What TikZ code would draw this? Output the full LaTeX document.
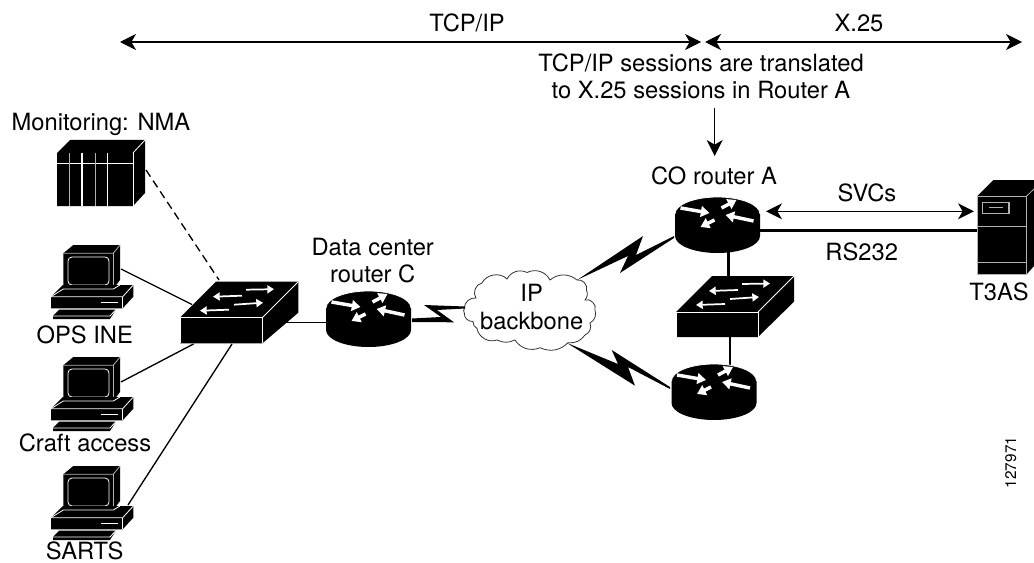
\documentclass[tikz,border=0pt]{standalone}
\usepackage{fontspec}
\setmainfont{TeX Gyre Heros}
\usetikzlibrary{arrows.meta}
\tikzset{
  x=0.75pt,y=-0.75pt,
  lbl/.style={anchor=base,inner sep=0pt,font=\fontsize{17.8}{20}\selectfont},
  cable/.style={line width=1pt,black},
  trunk/.style={line width=1.8pt,black},
  dims/.style={line width=1pt,black,{Stealth[length=12pt,width=12pt,inset=3.5pt]}-{Stealth[length=12pt,width=12pt,inset=3.5pt]}},
  edgew/.style={white,line width=0.6pt},
  edgeg/.style={gray!60!white,line width=0.6pt},
  rarrow/.style={white,line width=2.6pt,-{Triangle[length=6.5pt,width=8pt]}},
  sarrow/.style={white,line width=1.3pt,-{Triangle[length=5pt,width=6pt]}},
  bolt/.style={fill=black,draw=none},
  router/.pic={
    \fill[black] (-42.5,0) arc[start angle=180,end angle=0,x radius=42.5,y radius=-17] -- (42.5,22)
       arc[start angle=0,end angle=-180,x radius=42.5,y radius=-17] -- cycle;
    \draw[edgew] (-42.5,0) arc[start angle=180,end angle=360,x radius=42.5,y radius=17];
    \draw[rarrow] (-37,-6) -- (-8,-1);
    \draw[rarrow] (4,-6) -- (19,-14);
    \draw[rarrow] (36,7) -- (8,1);
    \draw[rarrow] (-3,6) -- (-17,13);
  },
  pcunit/.pic={
    \fill[black] (63.3,253.3) -- (73.3,245) -- (120,245) -- (120,280) -- (113.3,289) -- (63.3,289) -- cycle;
    \draw[edgeg] (63.3,253.3) -- (113.3,253.3) -- (120,245);
    \draw[edgeg] (113.3,253.3) -- (113.3,289);
    \draw[edgew,rounded corners=3pt] (68,257) rectangle (109,285);
    \fill[black] (63,285) -- (133.3,285) -- (133.3,296.7) -- (122.7,308.3) -- (51,308.3) -- (51,296.7) -- cycle;
    \draw[edgew] (51,296.7) -- (63.3,289) -- (113.3,289) -- (120,285);
    \draw[edgew] (51,296.7) -- (122.7,296.7) -- (133.3,285);
    \draw[edgew] (122.7,296.7) -- (122.7,308.3);
    \draw[white,line width=1.2pt] (101,302.5) -- (118,302.5);
    \fill[black] (59.3,309.5) -- (116,309.5) -- (110,319) -- (53,319) -- (53,316) -- cycle;
    \draw[edgew] (53,316) -- (110,316) -- (116,309.5);
  }
}
\newcommand{\switchbox}[7]{%
  % #1,#2 front-left top; #3 front width; #4 dx; #5 dy; #6 front height; #7 back height
  \begin{scope}[shift={(#1,#2)}]
    \fill[black] (0,0) -- (#4,-#5) -- (#3+#4,-#5) -- (#3+#4,-#5+#7) -- (#3,#6) -- (0,#6) -- cycle;
    \draw[edgew] (0,#6) -- (0,0) -- (#3,0) -- (#3,#6);
    \draw[edgew] (#3,0) -- (#3+#4,-#5);
    \draw[sarrow] (62,-22) -- (33,-21);
    \draw[sarrow] (66,-28) -- (94,-28.5);
    \draw[sarrow] (54,-13) -- (83,-15);
    \draw[sarrow] (49,-8) -- (20,-7);
  \end{scope}}
\begin{document}
\begin{tikzpicture}
\useasboundingbox (0,0) rectangle (1034,563);

% anchor points
\coordinate (topL) at (120,42);
\coordinate (topM1) at (701,42);
\coordinate (topM2) at (705,42);
\coordinate (topR) at (1022,42);
\coordinate (noteA) at (714.7,108);
\coordinate (noteB) at (714.7,156);
\coordinate (nmaP) at (146,170);
\coordinate (swN) at (219,280);
\coordinate (pcAP) at (121,269);
\coordinate (swA) at (192,304.5);
\coordinate (pcBP) at (121,382);
\coordinate (swB) at (193.5,344);
\coordinate (pcCP) at (128,505);
\coordinate (swC) at (232,344);
\coordinate (swR) at (279,322.3);
\coordinate (rCL) at (327,322.3);
\coordinate (rAB) at (728.3,250);
\coordinate (smT) at (728.3,277);
\coordinate (smB) at (730,336);
\coordinate (rBT) at (730,366);
\coordinate (rAR) at (760,230.3);
\coordinate (t3L) at (978,230.3);
\coordinate (rAS) at (766,211.3);
\coordinate (t3S) at (974,211.3);

% connectors under the devices
\draw[cable] (pcAP) -- (swA);
\draw[cable] (pcBP) -- (swB);
\draw[cable] (pcCP) -- (swC);
\draw[cable] (swR) -- (rCL);
\draw[cable,dash pattern=on 6pt off 3.6pt] (nmaP) -- (swN);
\draw[trunk] (rAB) -- (smT);
\draw[trunk] (smB) -- (rBT);
\draw[trunk] (rAR) -- (t3L);
\draw[dims] (topL) -- (topM1);
\draw[dims] (topM2) -- (topR);
\draw[dims] (rAS) -- (t3S);
\draw[line width=0.8pt,-{Stealth[length=12pt,width=12pt,inset=3.5pt]}] (noteA) -- (noteB);

% NMA
\fill[black] (57,153) -- (70,140) -- (145,140) -- (145,193) -- (133,206) -- (57,206) -- cycle;
\draw[edgew] (133,153) -- (145,140);
\draw[edgew] (133,153) -- (133,206);
\draw[edgew] (57,163) -- (133,163);
\draw[edgeg] (69.5,153) -- (69.5,206);
\draw[white,line width=0.9pt] (82,153) -- (82,206);
\draw[edgeg] (95,153) -- (95,206);
\draw[edgew] (107.5,153) -- (107.5,206);

% PCs
\pic at (0,0) {pcunit};
\pic at (0,112) {pcunit};
\pic at (0,221) {pcunit};

% switches
\switchbox{180}{317.7}{82.3}{36}{36}{25.7}{31}
\switchbox{676}{312}{82}{36}{36}{25}{25.7}

% routers
\pic at (368.5,308) {router};
\pic at (717.5,214) {router};
\pic at (714,381) {router};

% cloud
\draw[line width=0.6pt,fill=white,draw=black!80]
  (464.3,308.5) to[bend left=50] (476,298)
  to[bend left=60] (482,283)
  to[bend left=55] (507,279)
  to[bend left=45] (527,272.5)
  to[bend left=45] (550,280)
  to[bend left=40] (577,280)
  to[bend left=60] (586.5,290)
  to[bend left=30] (585,300)
  to[bend left=70] (595,310)
  to[bend left=40] (590,323)
  to[bend left=45] (585,335)
  to[bend left=30] (568,342.7)
  to[bend left=35] (540,347.7)
  to[bend left=40] (515,340)
  to[bend left=25] (497,340)
  to[bend left=50] (477,328.5)
  to[bend left=30] (473,321.5)
  to[bend left=50] (464.3,313)
  to[bend left=30] (464.3,308.5) -- cycle;

% lightning
\fill[bolt] (412,318.5) -- (441,317) -- (424,305) -- (465,306.5) -- (465,308.5) -- (437,310) -- (454,322.3) -- (412,322) -- cycle;
\fill[bolt] (577,280) -- (643,236) -- (636,255) -- (674,236) -- (674,238) -- (620,273) -- (628,256) -- cycle;
\fill[bolt] (567,343) -- (635,385.7) -- (628,367) -- (670,389) -- (670,387) -- (611.7,350) -- (618,364) -- cycle;

% T3AS
\fill[black] (977.3,196) -- (993.3,180) -- (1034,180) -- (1034,266) -- (1026.7,274.3) -- (977.3,274.3) -- cycle;
\draw[edgeg] (977.3,196) rectangle (1026.7,274.3);
\draw[edgeg] (1026.7,196) -- (1034,189);
\draw[edgeg] (977.3,226.7) -- (1026.7,226.7);
\draw[edgeg] (977.3,262.7) -- (1026.7,262.7);
\draw[edgeg,line width=0.8pt] (982.7,202.3) rectangle (1009,213.3);
\draw[edgeg,line width=0.8pt] (989,207.7) -- (1003,207.7);

% labels
\node[lbl] (tTCP) at (467,32) {TCP/IP};
\node[lbl] (tX) at (859,32) {X.25};
\node[lbl] (tNote1) at (701,72) {TCP/IP sessions are translated};
\node[lbl] (tNote2) at (701,99) {to X.25 sessions in Router A};
\node[lbl] (tNMA) at (101,131) {Monitoring: NMA};
\node[lbl] (tOPS) at (84.7,343) {OPS INE};
\node[lbl] (tCraft) at (85,451.7) {Craft access};
\node[lbl] (tSARTS) at (84.7,559.5) {SARTS};
\node[lbl] (tDC1) at (372.7,255) {Data center};
\node[lbl] (tDC2) at (372.7,282) {router C};
\node[lbl] (tIP) at (531.7,301.7) {IP};
\node[lbl] (tBB) at (531.7,329) {backbone};
\node[lbl] (tCO) at (714,185) {CO router A};
\node[lbl] (tSVC) at (867,201) {SVCs};
\node[lbl] (tRS) at (861.7,260.7) {RS232};
\node[lbl] (tT3) at (999,300) {T3AS};
\node[anchor=base,inner sep=0pt,rotate=90,font=\fontsize{11.5}{13}\selectfont] (tNum) at (1016,462.5) {127971};
\end{tikzpicture}
\end{document}
